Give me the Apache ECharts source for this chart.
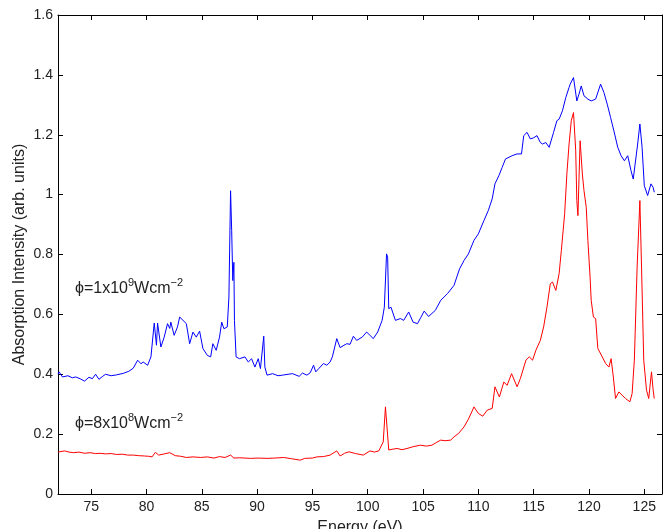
<!DOCTYPE html>
<html>
<head>
<meta charset="utf-8">
<script src="https://cdn.jsdelivr.net/npm/echarts@6/dist/echarts.min.js"></script>
<style>
  html, body { margin: 0; padding: 0; background: #fff; }
  #chart { width: 664px; height: 529px; }
</style>
</head>
<body>
<div id="chart"></div>
<script>
// energy (eV) and absorption
var blueEnergy = [72.0,72.1,72.4,72.9,73.3,73.6,74.0,74.4,74.8,75.1,75.4,75.7,76.0,76.3,76.8,77.3,77.9,78.4,78.8,79.2,79.5,79.7,80.1,80.4,80.7,80.9,81.0,81.3,81.6,81.9,82.1,82.2,82.5,82.8,83.0,83.3,83.6,83.9,84.2,84.5,84.8,85.1,85.5,85.8,86.0,86.3,86.6,86.8,87.0,87.3,87.45,87.6,87.7,87.8,87.9,87.95,88.1,88.4,88.9,89.2,89.5,89.8,90.1,90.3,90.6,90.7,90.9,91.4,91.9,92.3,92.8,93.2,93.8,94.1,94.5,94.8,95.1,95.3,95.6,96.0,96.3,96.6,96.8,97.2,97.5,98.1,98.4,98.7,99.0,99.5,99.9,100.2,100.5,100.9,101.3,101.5,101.7,101.8,101.9,102.1,102.5,102.95,103.25,103.7,104.1,104.5,104.8,105.1,105.5,106.1,106.6,107.2,107.8,108.3,108.7,109.1,109.6,110.0,110.5,110.9,111.25,111.5,111.85,112.15,112.45,112.6,113.05,113.5,113.9,114.1,114.4,114.7,115.0,115.3,115.6,115.8,116.1,116.4,116.8,117.1,117.3,117.6,117.9,118.2,118.3,118.6,118.9,119.1,119.3,119.55,119.9,120.2,120.6,121.05,121.35,121.65,121.95,122.25,122.6,122.9,123.2,123.5,123.8,124.0,124.4,124.6,124.8,125.0,125.3,125.6,125.8,125.9];
var blueValues = [0.400,0.408,0.391,0.395,0.388,0.391,0.385,0.377,0.390,0.385,0.400,0.383,0.392,0.400,0.395,0.398,0.403,0.410,0.420,0.447,0.435,0.441,0.430,0.458,0.571,0.497,0.571,0.491,0.524,0.569,0.553,0.574,0.530,0.558,0.591,0.580,0.569,0.502,0.541,0.524,0.544,0.486,0.463,0.458,0.502,0.480,0.524,0.574,0.552,0.558,0.658,1.013,0.880,0.713,0.774,0.580,0.458,0.452,0.458,0.441,0.452,0.424,0.452,0.419,0.527,0.424,0.397,0.402,0.395,0.397,0.400,0.402,0.393,0.404,0.397,0.405,0.430,0.408,0.420,0.436,0.430,0.441,0.458,0.519,0.489,0.502,0.500,0.527,0.513,0.524,0.541,0.530,0.519,0.541,0.580,0.624,0.802,0.791,0.619,0.624,0.580,0.586,0.580,0.608,0.574,0.569,0.590,0.611,0.593,0.613,0.647,0.669,0.697,0.752,0.780,0.802,0.847,0.869,0.913,0.947,0.986,1.036,1.063,1.091,1.119,1.124,1.130,1.136,1.136,1.197,1.208,1.186,1.190,1.197,1.174,1.169,1.174,1.158,1.208,1.247,1.252,1.280,1.324,1.358,1.369,1.391,1.313,1.336,1.363,1.330,1.319,1.313,1.319,1.369,1.341,1.302,1.258,1.213,1.158,1.130,1.113,1.130,1.080,1.052,1.169,1.236,1.158,1.030,0.997,1.036,1.024,1.008];

var redEnergy = [72.0,72.1,72.6,73.0,73.4,73.9,74.4,74.9,75.4,75.8,76.3,76.8,77.3,77.8,78.3,78.8,79.3,79.8,80.2,80.5,80.8,81.1,81.5,82.1,82.6,83.1,83.6,84.2,84.9,85.5,86.1,86.6,87.1,87.6,87.9,88.4,88.9,89.4,90.1,90.9,91.6,92.4,93.1,93.9,94.3,95.0,95.4,96.0,96.6,97.2,97.5,97.9,98.3,98.9,99.6,100.2,100.6,101.0,101.4,101.6,101.7,101.9,102.3,102.65,103.1,103.55,104.1,104.75,105.3,105.8,106.2,106.6,107.0,107.5,107.8,108.2,108.7,109.1,109.4,109.6,110.0,110.4,110.8,111.25,111.5,111.9,112.3,112.6,113.0,113.5,113.8,114.3,114.6,114.9,115.2,115.6,115.9,116.2,116.5,116.7,117.0,117.3,117.5,117.8,118.0,118.2,118.4,118.6,118.8,118.9,119.0,119.1,119.2,119.4,119.55,119.75,119.9,120.1,120.2,120.4,120.6,120.8,121.2,121.5,121.8,122.0,122.2,122.4,122.7,123.0,123.3,123.7,123.9,124.1,124.35,124.6,124.75,124.95,125.2,125.4,125.65,125.8,125.9];
var redValues = [0.140,0.141,0.144,0.140,0.138,0.140,0.136,0.138,0.135,0.136,0.134,0.135,0.132,0.133,0.130,0.130,0.128,0.127,0.126,0.124,0.139,0.130,0.133,0.138,0.128,0.126,0.122,0.124,0.122,0.124,0.120,0.125,0.122,0.130,0.120,0.121,0.120,0.119,0.120,0.119,0.120,0.122,0.118,0.113,0.119,0.120,0.124,0.125,0.130,0.144,0.127,0.136,0.141,0.135,0.130,0.144,0.140,0.144,0.174,0.291,0.291,0.147,0.150,0.152,0.148,0.152,0.158,0.163,0.160,0.163,0.172,0.180,0.178,0.180,0.191,0.202,0.224,0.250,0.274,0.291,0.269,0.260,0.280,0.286,0.358,0.324,0.374,0.363,0.402,0.358,0.386,0.447,0.458,0.447,0.480,0.513,0.558,0.624,0.702,0.708,0.680,0.736,0.813,0.936,1.069,1.169,1.247,1.274,1.147,0.980,0.930,1.058,1.180,1.069,1.013,0.958,0.847,0.724,0.647,0.591,0.586,0.486,0.458,0.436,0.424,0.452,0.391,0.319,0.341,0.330,0.319,0.308,0.336,0.447,0.758,0.980,0.758,0.447,0.347,0.319,0.408,0.347,0.319];

var xTicks = [75, 80, 85, 90, 95, 100, 105, 110, 115, 120, 125];

function pairs(xs, ys) {
    return xs.map(function (x, i) { return [x, ys[i]]; });
}

var font = 'Liberation Sans, Arial, Helvetica, sans-serif';
var axisColor = '#000';
var labelColor = '#222';

var chart = echarts.init(document.getElementById('chart'));

var tickStyle = { show: true, inside: true, length: 5, lineStyle: { color: axisColor, width: 1 } };

// phi = m x 10^e W cm^-2 labels, with superscripts
function phiLabel(top, mant, exp) {
    return {
        type: 'text',
        left: 75,
        top: top,
        style: {
            text: '{a|\u03d5=' + mant + 'x10}{s|' + exp + '}{a|Wcm}{s|\u22122}',
            rich: {
                a: { fontSize: 16, fontFamily: font, fill: '#222', lineHeight: 20, verticalAlign: 'bottom' },
                s: { fontSize: 11, fontFamily: font, fill: '#222', lineHeight: 20, verticalAlign: 'top', padding: [0, 0, 7, 0] }
            }
        }
    };
}

var option = {
    animation: false,
    backgroundColor: '#fff',
    grid: { left: 58, right: 2, top: 15, bottom: 35, containLabel: false, outerBoundsMode: 'none' },
    xAxis: [{
        type: 'value',
        min: 72,
        max: 126.6,
        name: 'Energy (eV)',
        nameLocation: 'middle',
        nameGap: 26,
        nameMoveOverlap: false,
        nameTextStyle: { fontFamily: font, fontSize: 16, color: labelColor },
        axisLine: { show: true, onZero: false, lineStyle: { color: axisColor, width: 1 } },
        axisTick: Object.assign({ customValues: xTicks }, tickStyle),
        axisLabel: { customValues: xTicks, fontFamily: font, fontSize: 14, color: labelColor, margin: 6 },
        splitLine: { show: false }
    }, {
        type: 'value',
        position: 'top',
        min: 72,
        max: 126.6,
        axisLine: { show: true, onZero: false, lineStyle: { color: axisColor, width: 1 } },
        axisTick: Object.assign({ customValues: xTicks }, tickStyle),
        axisLabel: { show: false },
        splitLine: { show: false }
    }],
    yAxis: [{
        type: 'value',
        min: 0,
        max: 1.6,
        interval: 0.2,
        name: 'Absorption Intensity (arb. units)',
        nameLocation: 'middle',
        nameGap: 30,
        nameMoveOverlap: false,
        nameTextStyle: { fontFamily: font, fontSize: 16, color: labelColor },
        axisLine: { show: true, onZero: false, lineStyle: { color: axisColor, width: 1 } },
        axisTick: tickStyle,
        axisLabel: { fontFamily: font, fontSize: 14, color: labelColor, margin: 5 },
        splitLine: { show: false }
    }, {
        type: 'value',
        position: 'right',
        min: 0,
        max: 1.6,
        interval: 0.2,
        axisLine: { show: true, onZero: false, lineStyle: { color: axisColor, width: 1 } },
        axisTick: tickStyle,
        axisLabel: { show: false },
        splitLine: { show: false }
    }],
    series: [{
        name: '1x10^9',
        type: 'line',
        data: pairs(blueEnergy, blueValues),
        showSymbol: false,
        lineStyle: { color: '#0000ff', width: 1 },
        itemStyle: { color: '#0000ff' }
    }, {
        name: '8x10^8',
        type: 'line',
        data: pairs(redEnergy, redValues),
        showSymbol: false,
        lineStyle: { color: '#ff0000', width: 1 },
        itemStyle: { color: '#ff0000' }
    }],
    graphic: [
        phiLabel(277, '1', '9'),
        phiLabel(412, '8', '8')
    ]
};

chart.setOption(option);
</script>
</body>
</html>
